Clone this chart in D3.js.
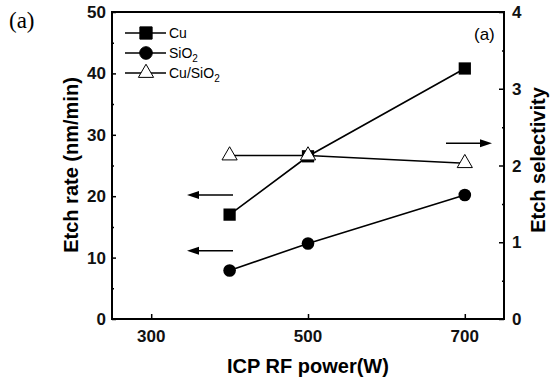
<!DOCTYPE html>
<html>
<head>
<meta charset="utf-8">
<script src="https://cdn.jsdelivr.net/npm/d3@7"></script>
<style>
  body { margin: 0; background: #fff; }
  svg { display: block; font-family: "Liberation Sans", Arial, sans-serif; }
</style>
</head>
<body>
<svg width="555" height="382"></svg>
<script>
// data
const power = [400, 500, 700];
const cuRate = [17, 26.5, 40.8];
const sio2Rate = [7.9, 12.3, 20.2];
const selectivity = [2.13, 2.13, 2.03];
const xTicks = [300, 500, 700];
const leftTicks = [0, 10, 20, 30, 40, 50];
const rightTicks = [0, 1, 2, 3, 4];

const svg = d3.select("svg");
const plotLeft = 112, plotRight = 504, plotTop = 12, plotBottom = 319;

const x = d3.scaleLinear().domain([250, 750]).range([plotLeft, plotRight]);
const yL = d3.scaleLinear().domain([0, 50]).range([plotBottom, plotTop]);
const yR = d3.scaleLinear().domain([0, 4]).range([plotBottom, plotTop]);

// axes, ticks inward
svg.append("g").attr("transform", `translate(${plotLeft},0)`)
  .call(d3.axisRight(yL).tickValues(leftTicks).tickSize(4).tickFormat(""));
svg.append("g").attr("transform", `translate(${plotLeft},0)`)
  .call(d3.axisRight(yL).tickValues(d3.range(5, 50, 10)).tickSize(2).tickFormat(""));
svg.append("g").attr("transform", `translate(${plotRight},0)`)
  .call(d3.axisLeft(yR).tickValues(rightTicks).tickSize(5).tickFormat(""));
svg.append("g").attr("transform", `translate(${plotRight},0)`)
  .call(d3.axisLeft(yR).tickValues([0.5, 1.5, 2.5, 3.5]).tickSize(2).tickFormat(""));
svg.append("g").attr("transform", `translate(0,${plotBottom})`)
  .call(d3.axisTop(x).tickValues(xTicks).tickSize(5).tickFormat(""));
svg.selectAll(".domain").remove();
svg.selectAll(".tick line").attr("stroke", "#000").attr("stroke-width", 1.5);

// frame
svg.append("rect")
  .attr("x", plotLeft).attr("y", plotTop)
  .attr("width", plotRight - plotLeft).attr("height", plotBottom - plotTop)
  .attr("fill", "none").attr("stroke", "#000").attr("stroke-width", 2);

// tick labels
function tickText(s) {
  s.attr("font-size", "17px").attr("font-weight", "bold").attr("fill", "#111");
}
svg.selectAll(".lt").data(leftTicks).join("text")
  .attr("x", plotLeft - 6).attr("y", d => yL(d) + 6)
  .attr("text-anchor", "end").text(d => d).call(tickText);
svg.selectAll(".rt").data(rightTicks).join("text")
  .attr("x", plotRight + 8).attr("y", d => yR(d) + 6)
  .attr("text-anchor", "start").text(d => d).call(tickText);
svg.selectAll(".xt").data(xTicks).join("text")
  .attr("x", d => x(d)).attr("y", 342)
  .attr("text-anchor", "middle").text(d => d).call(tickText);

// axis titles
svg.append("text").attr("transform", "translate(78,165) rotate(-90)")
  .attr("text-anchor", "middle").attr("font-size", "20px").attr("font-weight", "bold")
  .text("Etch rate (nm/min)");
svg.append("text").attr("transform", "translate(545,160) rotate(-90)")
  .attr("text-anchor", "middle").attr("font-size", "20px").attr("font-weight", "bold")
  .text("Etch selectivity");
svg.append("text").attr("x", 308).attr("y", 373)
  .attr("text-anchor", "middle").attr("font-size", "20px").attr("font-weight", "bold")
  .text("ICP RF power(W)");

// series lines
const lineL = vals => d3.line().x((d, i) => x(power[i])).y(d => yL(d))(vals);
svg.append("path").attr("d", lineL(cuRate)).attr("fill", "none").attr("stroke", "#000").attr("stroke-width", 1.6);
svg.append("path").attr("d", lineL(sio2Rate)).attr("fill", "none").attr("stroke", "#000").attr("stroke-width", 1.6);
svg.append("path").attr("d", d3.line().x((d, i) => x(power[i])).y(d => yR(d))(selectivity))
  .attr("fill", "none").attr("stroke", "#000").attr("stroke-width", 1.6);

// markers
const sq = d3.symbol().type(d3.symbolSquare).size(150);
const ci = d3.symbol().type(d3.symbolCircle).size(125);
const tr = d3.symbol().type(d3.symbolTriangle).size(100);
svg.selectAll(".cu").data(cuRate).join("path")
  .attr("transform", (d, i) => `translate(${x(power[i])},${yL(d)})`).attr("d", sq).attr("fill", "#000");
svg.selectAll(".si").data(sio2Rate).join("path")
  .attr("transform", (d, i) => `translate(${x(power[i])},${yL(d)})`).attr("d", ci).attr("fill", "#000");
svg.selectAll(".sel").data(selectivity).join("path")
  .attr("transform", (d, i) => `translate(${x(power[i])},${yR(d)})`).attr("d", tr)
  .attr("fill", "#fff").attr("stroke", "#000").attr("stroke-width", 1);

// arrows: shaft plus a filled head at x2
function arrow(x1, x2, yy) {
  const dir = Math.sign(x2 - x1);
  svg.append("line")
    .attr("x1", x1).attr("x2", x2 - dir * 8).attr("y1", yy).attr("y2", yy)
    .attr("stroke", "#000").attr("stroke-width", 1.5);
  svg.append("path")
    .attr("d", `M${x2},${yy} L${x2 - dir * 12},${yy - 4} L${x2 - dir * 12},${yy + 4} Z`)
    .attr("fill", "#000");
}
arrow(233, 187, yL(20.2));
arrow(233, 187, yL(11.1));
arrow(446, 492, yR(2.29));

// legend
const legend = [
  { name: "Cu", sym: sq, fill: "#000" },
  { name: "SiO", sub: "2", sym: ci, fill: "#000" },
  { name: "Cu/SiO", sub: "2", sym: tr, fill: "#fff" }
];
legend.forEach((d, i) => {
  const yy = 33 + i * 20;
  svg.append("line").attr("x1", 125).attr("x2", 166).attr("y1", yy).attr("y2", yy)
    .attr("stroke", "#000").attr("stroke-width", 1.6);
  svg.append("path").attr("transform", `translate(146,${yy})`).attr("d", d.sym)
    .attr("fill", d.fill).attr("stroke", "#000").attr("stroke-width", 1);
  const t = svg.append("text").attr("x", 169).attr("y", yy + 5).attr("font-size", "14px").text(d.name);
  if (d.sub) t.append("tspan").attr("dy", 4).attr("font-size", "10px").text(d.sub);
});

// panel labels
svg.append("text").attr("x", 474).attr("y", 40).attr("font-size", "17px").text("(a)");
svg.append("text").attr("x", 9).attr("y", 28).attr("font-size", "23px")
  .attr("font-family", "'Liberation Serif', 'Times New Roman', serif").text("(a)");
</script>
</body>
</html>
